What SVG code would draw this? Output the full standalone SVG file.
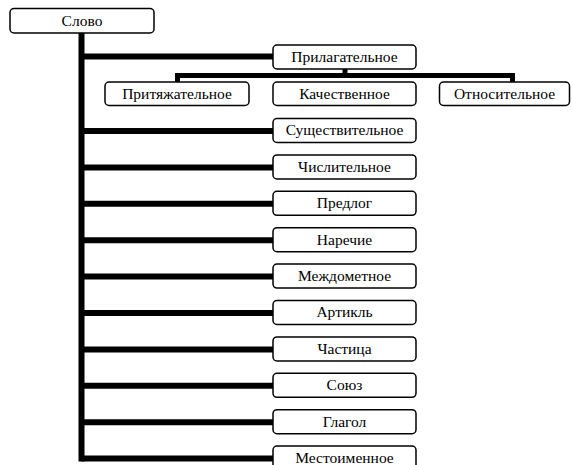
<svg xmlns="http://www.w3.org/2000/svg" width="572" height="465" viewBox="0 0 572 465">
  <style>
    .box { fill: #ffffff; stroke: #000000; stroke-width: 1.5; }
    .lbl { font-family: 'Liberation Serif', 'Times New Roman', serif; font-size: 15.5px; fill: #000000; text-anchor: middle; }
    .wire { fill: none; stroke: #000000; stroke-linecap: butt; stroke-linejoin: miter; }
    .thick { stroke-width: 6; }
    .mid { stroke-width: 5; }
  </style>
  <rect width="572" height="465" fill="#ffffff"/>

  <!-- connectors -->
  <g id="connectors">
    <path class="wire thick" d="M81.5 33 V461.6"/>
    <path class="wire thick" d="M81.5 56.5 H273"/>
    <path class="wire mid" d="M345 69 V75.5"/>
    <path class="wire mid" d="M177.5 82 V75.5 H512.5 V82"/>
    <path class="wire thick" d="M81.5 131 H273"/>
    <path class="wire thick" d="M81.5 167.4 H273"/>
    <path class="wire thick" d="M81.5 203.8 H273"/>
    <path class="wire thick" d="M81.5 240.2 H273"/>
    <path class="wire thick" d="M81.5 276.6 H273"/>
    <path class="wire thick" d="M81.5 313 H273"/>
    <path class="wire thick" d="M81.5 349.4 H273"/>
    <path class="wire thick" d="M81.5 385.8 H273"/>
    <path class="wire thick" d="M81.5 422.2 H273"/>
    <path class="wire thick" d="M81.5 458.6 H273"/>
  </g>

  <g id="slovo">
    <rect class="box" x="10" y="8.5" width="144" height="24.5" rx="4"/>
    <text class="lbl" x="82" y="25.8">Слово</text>
  </g>

  <g id="prilagatelnoe">
    <rect class="box" x="273" y="45" width="143" height="24" rx="4"/>
    <text class="lbl" x="344.5" y="61.8">Прилагательное</text>
  </g>

  <g id="prityazhatelnoe">
    <rect class="box" x="105" y="82" width="144" height="23.5" rx="4"/>
    <text class="lbl" x="177" y="98.8">Притяжательное</text>
  </g>

  <g id="kachestvennoe">
    <rect class="box" x="273" y="82" width="143" height="23.5" rx="4"/>
    <text class="lbl" x="344.5" y="98.8">Качественное</text>
  </g>

  <g id="otnositelnoe">
    <rect class="box" x="439.5" y="82" width="130" height="23.5" rx="4"/>
    <text class="lbl" x="504.5" y="98.8">Относительное</text>
  </g>

  <g id="sushchestvitelnoe">
    <rect class="box" x="273" y="118.5" width="143" height="24" rx="4"/>
    <text class="lbl" x="344.5" y="135.3">Существительное</text>
  </g>

  <g id="chislitelnoe">
    <rect class="box" x="273" y="154.9" width="143" height="24" rx="4"/>
    <text class="lbl" x="344.5" y="171.7">Числительное</text>
  </g>

  <g id="predlog">
    <rect class="box" x="273" y="191.3" width="143" height="24" rx="4"/>
    <text class="lbl" x="344.5" y="208.1">Предлог</text>
  </g>

  <g id="narechie">
    <rect class="box" x="273" y="227.7" width="143" height="24" rx="4"/>
    <text class="lbl" x="344.5" y="244.5">Наречие</text>
  </g>

  <g id="mezhdometnoe">
    <rect class="box" x="273" y="264.1" width="143" height="24" rx="4"/>
    <text class="lbl" x="344.5" y="280.9">Междометное</text>
  </g>

  <g id="artikl">
    <rect class="box" x="273" y="300.5" width="143" height="24" rx="4"/>
    <text class="lbl" x="344.5" y="317.3">Артикль</text>
  </g>

  <g id="chastitsa">
    <rect class="box" x="273" y="336.9" width="143" height="24" rx="4"/>
    <text class="lbl" x="344.5" y="353.7">Частица</text>
  </g>

  <g id="soyuz">
    <rect class="box" x="273" y="373.3" width="143" height="24" rx="4"/>
    <text class="lbl" x="344.5" y="390.1">Союз</text>
  </g>

  <g id="glagol">
    <rect class="box" x="273" y="409.7" width="143" height="24" rx="4"/>
    <text class="lbl" x="344.5" y="426.5">Глагол</text>
  </g>

  <g id="mestoimennoe">
    <rect class="box" x="273" y="446.1" width="143" height="24" rx="4"/>
    <text class="lbl" x="344.5" y="462.9">Местоименное</text>
  </g>
</svg>
